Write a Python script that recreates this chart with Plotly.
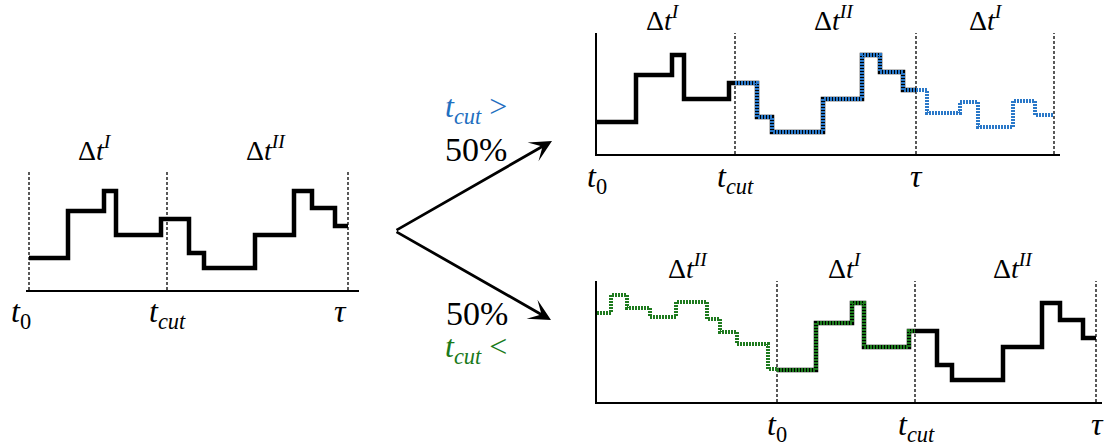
import plotly.graph_objects as go

W, H = 1120, 447

# ---------------- data (time units; one unit ~ 10 px) ----------------
traj_t = [0, 3.9, 7.5, 8.7, 13.2, 16.0, 17.5, 22.6, 26.5, 28.3, 30.6, 31.9]
traj_v = [3.2, 7.9, 9.9, 5.5, 7.1, 3.7, 2.2, 5.5, 9.9, 8.2, 6.4]
t_cut = 13.8
tau = 31.9

# continuation after tau (upper panel, blue)
blue_t = [31.9, 33.0, 36.3, 38.1, 41.6, 43.8, 45.7]
blue_v = [6.4, 4.1, 5.2, 2.7, 5.3, 3.9]

# history before t0 (lower panel, green)
green_t = [-18.0, -16.6, -15.0, -12.7, -10.1, -7.0, -5.7, -4.0, -0.9, 0]
green_v = [8.9, 10.7, 9.4, 8.5, 10.0, 8.3, 7.0, 5.8, 3.3]

FONT = "Liberation Serif"
BLUE = "#2a78c8"
GREEN = "#1e7a1e"
BLUE_TXT = "#1f70c0"
GREEN_TXT = "#1a7a1a"


def step_xy(ts, vs):
    return list(ts), list(vs) + [vs[-1]]


def clip(ts, vs, a, b):
    bps = [a] + [t for t in ts if a < t < b] + [b]
    lev = []
    for s in bps[:-1]:
        i = max(k for k in range(len(vs)) if ts[k] <= s)
        lev.append(vs[i])
    return bps, lev


def fx(p):
    return p / W


def fy(p):
    return 1 - p / H


panels = {
    "": dict(x0=26, x1=359, yb=290, yt=170, xr=[-0.3, 33.0], yr=[0, 12.0], yline=False),
    "2": dict(x0=597, x1=1060, yb=154, yt=33, xr=[0, 46.3], yr=[0, 12.1], yline=True),
    "3": dict(x0=597, x1=1102, yb=402, yt=281, xr=[-18.0, 32.5], yr=[0, 12.1], yline=True),
}
dash_lines = {"": [0, t_cut, tau], "2": [t_cut, tau, tau + t_cut], "3": [0, t_cut, tau]}

fig = go.Figure()

# dashed separators (as line traces)
for k, xs in dash_lines.items():
    top = panels[k]["yr"][1]
    dx, dy = [], []
    for xv in xs:
        dx += [xv, xv, None]
        dy += [0, top, None]
    fig.add_trace(go.Scatter(x=dx, y=dy, mode="lines",
                             line=dict(color="black", width=1.3, dash="3px,2px"),
                             xaxis="x" + k, yaxis="y" + k, showlegend=False, hoverinfo="skip"))

x, y = step_xy(traj_t, traj_v)
# left panel
fig.add_trace(go.Scatter(x=x, y=y, mode="lines", line=dict(shape="hv", color="black", width=4.5),
                         xaxis="x", yaxis="y", showlegend=False, hoverinfo="skip"))
# top panel
fig.add_trace(go.Scatter(x=x, y=y, mode="lines", line=dict(shape="hv", color="black", width=4.5),
                         xaxis="x2", yaxis="y2", showlegend=False, hoverinfo="skip"))
ct, cv = clip(traj_t, traj_v, t_cut, tau)
bx, by = step_xy(ct + blue_t[1:], cv + blue_v)
fig.add_trace(go.Scatter(x=bx, y=by, mode="lines",
                         line=dict(shape="hv", color=BLUE, width=4, dash="2px,1px"),
                         xaxis="x2", yaxis="y2", showlegend=False, hoverinfo="skip"))
# bottom panel
fig.add_trace(go.Scatter(x=x, y=y, mode="lines", line=dict(shape="hv", color="black", width=4.5),
                         xaxis="x3", yaxis="y3", showlegend=False, hoverinfo="skip"))
gt0, gv0 = clip(traj_t, traj_v, 0, t_cut)
gx, gy = step_xy(green_t + gt0[1:], green_v + gv0)
fig.add_trace(go.Scatter(x=gx, y=gy, mode="lines",
                         line=dict(shape="hv", color=GREEN, width=4, dash="2px,1px"),
                         xaxis="x3", yaxis="y3", showlegend=False, hoverinfo="skip"))

layout = dict(width=W, height=H, margin=dict(l=0, r=0, t=0, b=0),
              paper_bgcolor="white", plot_bgcolor="white", showlegend=False,
              font=dict(family=FONT))
for k, p in panels.items():
    layout["xaxis" + k] = dict(domain=[fx(p["x0"]), fx(p["x1"])], range=p["xr"],
                               anchor="y" + k, showgrid=False, zeroline=False,
                               showticklabels=False, ticks="", showline=True,
                               linecolor="black", linewidth=2)
    layout["yaxis" + k] = dict(domain=[fy(p["yb"]), fy(p["yt"])], range=p["yr"],
                               anchor="x" + k, showgrid=False, zeroline=False,
                               showticklabels=False, ticks="", showline=p["yline"],
                               linecolor="black", linewidth=2)
fig.update_layout(**layout)

D1 = "Δ<i>t</i><sup><i>I</i></sup>"
D2 = "Δ<i>t</i><sup><i>II</i></sup>"
T0 = "<i>t</i><sub>0</sub>"
TC = "<i>t</i><sub><i>cut</i></sub>"
TAU = "<i>τ</i>"

labels = [
    (D1, 95, 148, 28, "black"), (D2, 266, 148, 28, "black"),
    (T0, 21, 313, 32, "black"), (TC, 167, 313, 32, "black"), (TAU, 340, 311, 32, "black"),
    (D1, 663, 19, 28, "black"), (D2, 834, 19, 28, "black"), (D1, 986, 19, 28, "black"),
    (T0, 597, 178, 32, "black"), (TC, 735, 178, 32, "black"), (TAU, 916, 176, 32, "black"),
    (D2, 688, 266, 28, "black"), (D1, 845, 266, 28, "black"), (D2, 1013, 266, 28, "black"),
    (T0, 777, 426, 32, "black"), (TC, 916, 426, 32, "black"), (TAU, 1097, 424, 32, "black"),
    (TC + " &gt;", 476, 108, 32, BLUE_TXT),
    ("50%", 476, 150, 34, "black"),
    ("50%", 477, 313, 34, "black"),
    (TC + " &lt;", 476, 348, 32, GREEN_TXT),
]
for txt, px_, py_, sz, col in labels:
    fig.add_annotation(x=fx(px_), y=fy(py_), xref="paper", yref="paper", text=txt,
                       showarrow=False, xanchor="center", yanchor="middle",
                       font=dict(family=FONT, size=sz, color=col))

# branching arrows
vx, vy = 395, 231
for tx, ty in [(552, 141), (551, 320)]:
    fig.add_annotation(x=fx(tx), y=fy(ty), xref="paper", yref="paper", text="",
                       showarrow=True, ax=vx - tx, ay=vy - ty, axref="pixel", ayref="pixel",
                       arrowhead=3, arrowwidth=2.8, arrowsize=1.3, arrowcolor="black")

fig.write_html("out.html")
